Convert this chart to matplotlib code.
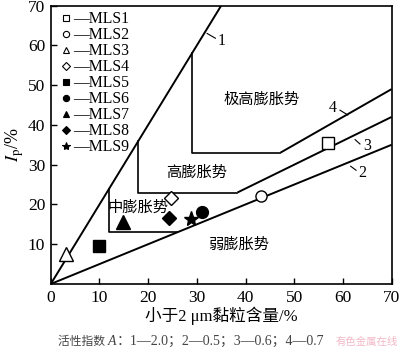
import numpy as np
import matplotlib
matplotlib.use("Agg")
import matplotlib.pyplot as plt
from matplotlib.lines import Line2D

plt.rcParams['font.family'] = ['Liberation Serif', 'Noto Sans CJK SC']
plt.rcParams['mathtext.fontset'] = 'stix'

# sample points: clay content (<2 um, %) and plasticity index Ip (%)
samples = ["MLS1", "MLS2", "MLS3", "MLS4", "MLS5", "MLS6", "MLS7", "MLS8", "MLS9"]
clay = [57.0, 43.2, 3.1, 24.6, 9.8, 31.0, 14.9, 24.3, 28.7]
ip = [35.5, 22.1, 7.5, 21.5, 9.6, 18.2, 15.7, 16.5, 16.3]
markers = ["s", "o", "^", "D", "s", "o", "^", "D", "*"]
filled = [False, False, False, False, True, True, True, True, True]
msizes = [8, 8, 10, 7, 8, 8.5, 10, 7.5, 11]

# activity lines A = Ip / clay
activity = [2.0, 0.5, 0.6, 0.7]
line_start = [0.0, 0.0, 23 / 0.6, 33 / 0.7]   # lines 3 and 4 begin on the zone boundary

# zone boundary polylines (clay, Ip)
very_high_x = [29, 29, 33 / 0.7]
very_high_y = [58, 33, 33]
high_x = [18, 18, 23 / 0.6]
high_y = [36, 23, 23]
mid_x = [12, 12, 26]
mid_y = [24, 13, 13]

zones = ["极高膨胀势", "高膨胀势", "中膨胀势", "弱膨胀势"]
zone_x = [43.3, 30.0, 17.9, 38.7]
zone_y = [46.5, 27.9, 19.3, 10.0]

fig = plt.figure(figsize=(4.0, 3.51), dpi=100)
ax = fig.add_axes([0.127, 0.191, 0.852, 0.793])

for a, x0 in zip(activity, line_start):
    x1 = min(70, 70 / a)
    xs = np.array([x0, x1])
    ax.plot(xs, a * xs, color="black", lw=1.4, solid_capstyle="butt")

for xs, ys in [(very_high_x, very_high_y), (high_x, high_y), (mid_x, mid_y)]:
    ax.plot(xs, ys, color="black", lw=1.2)

# line number labels with short leaders
nums = ["1", "4", "3", "2"]
num_xy = [(35.0, 61.2), (58.0, 44.3), (64.9, 34.8), (63.9, 27.9)]
lead = [((32.1, 63.0), (33.8, 61.8)), ((59.4, 43.7), (61.0, 42.5)),
        ((62.5, 36.3), (63.5, 35.2)), ((61.6, 29.6), (62.7, 28.6))]
for n, (tx, ty), ((lx0, ly0), (lx1, ly1)) in zip(nums, num_xy, lead):
    ax.plot([lx0, lx1], [ly0, ly1], color="black", lw=0.8)
    ax.text(tx, ty, n, fontsize=11.5, ha="center", va="center")

for z, zx, zy in zip(zones, zone_x, zone_y):
    ax.text(zx, zy, z, fontsize=11, ha="center", va="center")

handles = []
for s, cx, cy, m, f, ms in zip(samples, clay, ip, markers, filled, msizes):
    fc = "black" if f else "white"
    ax.plot(cx, cy, marker=m, ms=ms, mfc=fc, mec="black", mew=1.0, ls="none", zorder=5)
    handles.append(Line2D([], [], marker=m, ms=4.5 if m != "*" else 6, mfc=fc, mec="black",
                          mew=0.8, ls="none"))

ax.legend(handles, ["—" + s for s in samples], loc="upper left", bbox_to_anchor=(0.0, 1.02),
          frameon=False, fontsize=11.3, handlelength=0.6, handletextpad=0.1,
          labelspacing=0.0, borderpad=0.2)

ax.set_xlim(0, 70)
ax.set_ylim(0, 70)
ax.set_xticks([0, 10, 20, 30, 40, 50, 60, 70])
ax.set_yticks([10, 20, 30, 40, 50, 60, 70])
ax.tick_params(direction="in", length=4, width=1.0, labelsize=12.5, pad=4)
for sp in ax.spines.values():
    sp.set_linewidth(1.2)

ax.set_ylabel(r"$I_\mathrm{p}$/%", fontsize=13, labelpad=1)
ax.set_xlabel("小于2 μm黏粒含量/%", fontsize=12, labelpad=1)

# caption, split so CJK glyphs are not pushed through mathtext
cap_color = "#444444"
t1 = fig.text(0.145, 0.027, "活性指数 ", fontsize=8.5, color=cap_color, ha="left", va="center")
t2 = fig.text(0, 0, "A", fontsize=10, style="italic", color=cap_color, ha="left", va="center")
t3 = fig.text(0, 0, "：1—2.0；2—0.5；3—0.6；4—0.7", fontsize=10, color=cap_color,
              ha="left", va="center")
fig.canvas.draw()
r = fig.canvas.get_renderer()
inv = fig.transFigure.inverted()
x_end = inv.transform((t1.get_window_extent(r).x1, 0))[0]
t2.set_position((x_end, 0.027))
fig.canvas.draw()
x_end = inv.transform((t2.get_window_extent(r).x1, 0))[0]
t3.set_position((x_end, 0.027))
fig.text(0.995, 0.026, "有色金属在线", fontsize=7.5, color="#f2b8c6", ha="right", va="center")

fig.savefig("out.png", dpi=100)
